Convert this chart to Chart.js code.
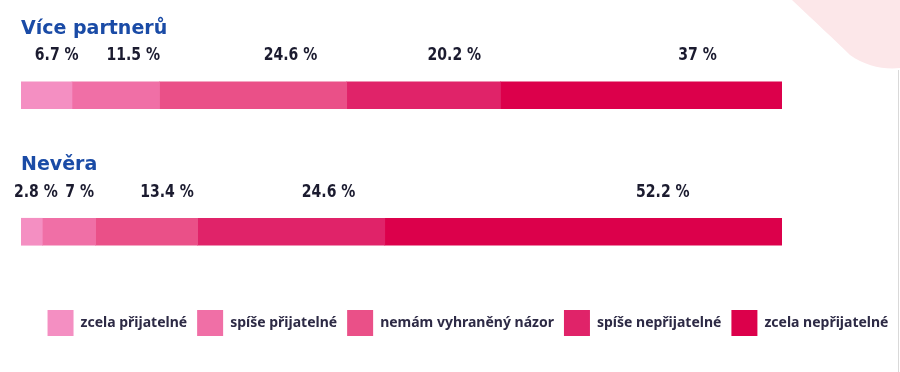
<!DOCTYPE html>
<html>
<head>
<meta charset="utf-8">
<script src="https://cdn.jsdelivr.net/npm/chart.js@4.4.1/dist/chart.umd.min.js"></script>
<style>
  html, body { margin: 0; padding: 0; background: #fff; }
  #wrap { position: relative; width: 900px; height: 372px; }
</style>
</head>
<body>
<div id="wrap"><canvas id="graf"></canvas></div>
<script>
// data
const kategorie = ["Více partnerů", "Nevěra"];
const odpovedi = ["zcela přijatelné", "spíše přijatelné", "nemám vyhraněný názor", "spíše nepřijatelné", "zcela nepřijatelné"];
const vicePartneru = [6.7, 11.5, 24.6, 20.2, 37];
const nevera = [2.8, 7, 13.4, 24.6, 52.2];
const barvy = ["#f48fc2", "#f06fa6", "#ea5088", "#e02369", "#dc004b"];

const datasets = odpovedi.map((nazev, i) => ({
    label: nazev,
    data: [vicePartneru[i], nevera[i]],
    backgroundColor: barvy[i],
    borderWidth: 0,
    barThickness: 27
}));

// pink shape in the corner + thin border on the right
const pozadi = {
    id: "pozadi",
    beforeDraw(chart) {
        const c = chart.ctx;
        c.save();
        c.fillStyle = "#fce7e9";
        c.beginPath();
        c.moveTo(792, 0);
        c.bezierCurveTo(815, 22, 835, 40, 850, 55);
        c.bezierCurveTo(865, 66, 885, 70, 900, 68);
        c.lineTo(900, 0);
        c.closePath();
        c.fill();
        c.strokeStyle = "#d9d9d9";
        c.lineWidth = 1;
        c.beginPath();
        c.moveTo(898.5, 70);
        c.lineTo(898.5, 372);
        c.stroke();
        c.restore();
    }
};

// legend sits a bit right of centre in the original
const posunLegendy = {
    id: "posunLegendy",
    afterLayout(chart) {
        chart.legend.left += 18;
        chart.legend.right += 18;
    }
};

// category names and percentage labels above the bars
const popisky = {
    id: "popisky",
    afterDatasetsDraw(chart) {
        const c = chart.ctx;
        const x = chart.scales.x;
        const zuzeni = 0.78; // no condensed font installed, squeeze it
        c.save();
        kategorie.forEach((kat, j) => {
            const prvni = chart.getDatasetMeta(0).data[j];
            const horni = prvni.y - prvni.height / 2;
            c.fillStyle = "#1a4ba6";
            c.font = "bold 19px 'DejaVu Sans'";
            c.textAlign = "left";
            c.textBaseline = "alphabetic";
            c.fillText(kat, x.getPixelForValue(0), horni - 48);

            let start = 0;
            chart.data.datasets.forEach(ds => {
                const v = ds.data[j];
                const px = x.getPixelForValue(start + v * 0.7);
                c.save();
                c.translate(px, horni - 26);
                c.scale(zuzeni, 1);
                c.fillStyle = "#1b1b2f";
                c.font = "bold 18px 'DejaVu Sans'";
                c.textAlign = "center";
                c.textBaseline = "middle";
                c.fillText(v + " %", 0, 0);
                c.restore();
                start += v;
            });
        });
        c.restore();
    }
};

const ctx = document.getElementById("graf").getContext("2d");
const chart = new Chart(ctx, {
    type: "bar",
    data: { labels: kategorie, datasets: datasets },
    options: {
        indexAxis: "y",
        responsive: true,
        maintainAspectRatio: false,
        animation: false,
        layout: { padding: { top: 27, bottom: 26, left: 0, right: 0 } },
        scales: {
            x: {
                stacked: true,
                min: 0,
                max: 100,
                display: false
            },
            y: {
                stacked: true,
                position: "left",
                grid: { display: false },
                border: { display: false },
                ticks: { display: false },
                afterFit: (scale) => { scale.width = 21; }
            },
            y2: {
                type: "category",
                labels: kategorie,
                position: "right",
                grid: { display: false },
                border: { display: false },
                ticks: { display: false },
                afterFit: (scale) => { scale.width = 118; }
            }
        },
        plugins: {
            legend: {
                position: "bottom",
                labels: {
                    boxWidth: 26,
                    boxHeight: 26,
                    padding: 10,
                    color: "#2d2a45",
                    font: { family: "'Noto Sans'", size: 14, weight: "bold" }
                }
            },
            tooltip: { enabled: false }
        }
    },
    plugins: [pozadi, posunLegendy, popisky]
});
</script>
</body>
</html>
